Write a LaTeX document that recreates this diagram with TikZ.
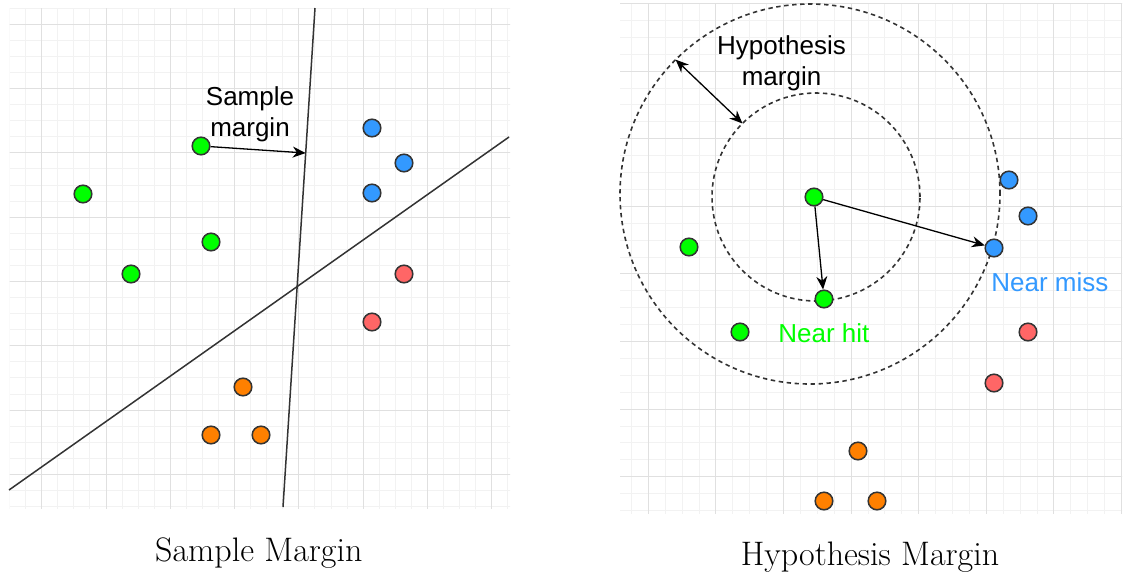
\documentclass[tikz,border=0pt]{standalone}
\usepackage{fontspec}
\newfontfamily\labelfont{Liberation Sans}
\usetikzlibrary{arrows.meta,calc}
\definecolor{dotgreen}{HTML}{00FF00}
\definecolor{dotblue}{HTML}{3399FF}
\definecolor{dotred}{HTML}{FF6666}
\definecolor{dotorange}{HTML}{FF8000}
\definecolor{gridmajor}{HTML}{E0E0E0}
\definecolor{gridminor}{HTML}{F2F2F2}
\definecolor{inkgray}{HTML}{333333}

\begin{document}
\begin{tikzpicture}[x=0.5pt,y=0.5pt,>={Stealth[length=6.5pt,width=5.5pt]},
  spot/.style={circle,draw=inkgray,line width=0.75pt,minimum size=8.8pt,inner sep=0pt},
  gspot/.style={spot,fill=dotgreen},
  bspot/.style={spot,fill=dotblue},
  rspot/.style={spot,fill=dotred},
  ospot/.style={spot,fill=dotorange},
  minorgrid/.style={gridminor,line width=0.5pt},
  majorgrid/.style={gridmajor,line width=0.5pt},
  sepline/.style={inkgray,line width=0.75pt},
  marrow/.style={black,line width=0.65pt},
  ring/.style={inkgray,line width=0.8pt,dash pattern=on 2.2pt off 1.8pt},
  mlabel/.style={font=\labelfont\fontsize{13}{15.5}\selectfont,align=center,inner sep=0pt},
  capt/.style={font=\fontsize{17}{20}\selectfont,inner sep=0pt}]
\useasboundingbox (0,0) rectangle (1124,-579);

\begin{scope}
  \clip (9.5,-8) rectangle (510,-508);
  \draw[minorgrid,shift={(41.7,-24.3)},step=16.075] (-40,20) grid (480,-490);
  \draw[majorgrid,shift={(41.7,-24.3)},step=64.3] (-40,20) grid (480,-490);
\end{scope}

\coordinate (va) at (315,-8);
\coordinate (vb) at (283,-507);
\coordinate (da) at (9,-490);
\coordinate (db) at (509,-137);
\draw[sepline] (va) -- (vb);
\draw[sepline] (da) -- (db);
\coordinate (smtip) at ($(va)!0.2906!(vb)$);

\node[gspot] (g1) at (201,-146) {};
\node[gspot] (g2) at (83,-194) {};
\node[gspot] (g3) at (211,-242) {};
\node[gspot] (g4) at (131,-274) {};
\node[bspot] (b1) at (372,-128) {};
\node[bspot] (b2) at (404,-163) {};
\node[bspot] (b3) at (372,-193) {};
\node[rspot] (r1) at (404,-274) {};
\node[rspot] (r2) at (372,-322) {};
\node[ospot] (o1) at (243,-387) {};
\node[ospot] (o2) at (211,-435) {};
\node[ospot] (o3) at (261,-435) {};

\draw[marrow,->] (g1) -- (smtip);
\node[mlabel] (smtext) at (250,-114) {Sample\\margin};

\begin{scope}
  \clip (620,-3.5) rectangle (1122,-513);
  \draw[minorgrid,shift={(648.3,-3.5)},step=16.9] (-30,5) grid (475,-512);
  \draw[majorgrid,shift={(648.3,-3.5)},step=67.6] (-30,5) grid (475,-512);
\end{scope}

\coordinate (ic) at (816,-197);
\coordinate (oc) at (810,-194);
\draw[ring] (ic) circle (104);
\draw[ring] (oc) circle (190);
\coordinate (hmout) at ($(oc)+(135:190)$);
\coordinate (hmin) at ($(ic)+(135:104)$);
\draw[marrow,<->] (hmout) -- (hmin);
\node[mlabel] (hmtext) at (781.5,-63) {Hypothesis\\margin};

\node[gspot] (ctr) at (814,-197) {};
\node[gspot] (nh) at (824,-299) {};
\node[gspot] (hg1) at (689,-247) {};
\node[gspot] (hg2) at (740,-332) {};
\node[bspot] (hb1) at (1009,-180) {};
\node[bspot] (hb2) at (1028,-216) {};
\node[bspot] (nm) at (994,-248) {};
\node[rspot] (hr1) at (1028,-332) {};
\node[rspot] (hr2) at (994,-383) {};
\node[ospot] (ho1) at (858,-451) {};
\node[ospot] (ho2) at (824,-501) {};
\node[ospot] (ho3) at (877,-501) {};

\draw[marrow,->] (ctr) -- (nh);
\draw[marrow,->] (ctr) -- (nm);
\node[mlabel,text=dotgreen,anchor=base west] (nhtext) at (778,-342.7) {Near hit};
\node[mlabel,text=dotblue,anchor=base west] (nmtext) at (991,-291.7) {Near miss};

\node[capt,anchor=base] (capl) at (258.8,-561.7) {Sample Margin};
\node[capt,anchor=base] (capr) at (870,-565.7) {Hypothesis Margin};
\end{tikzpicture}
\end{document}
